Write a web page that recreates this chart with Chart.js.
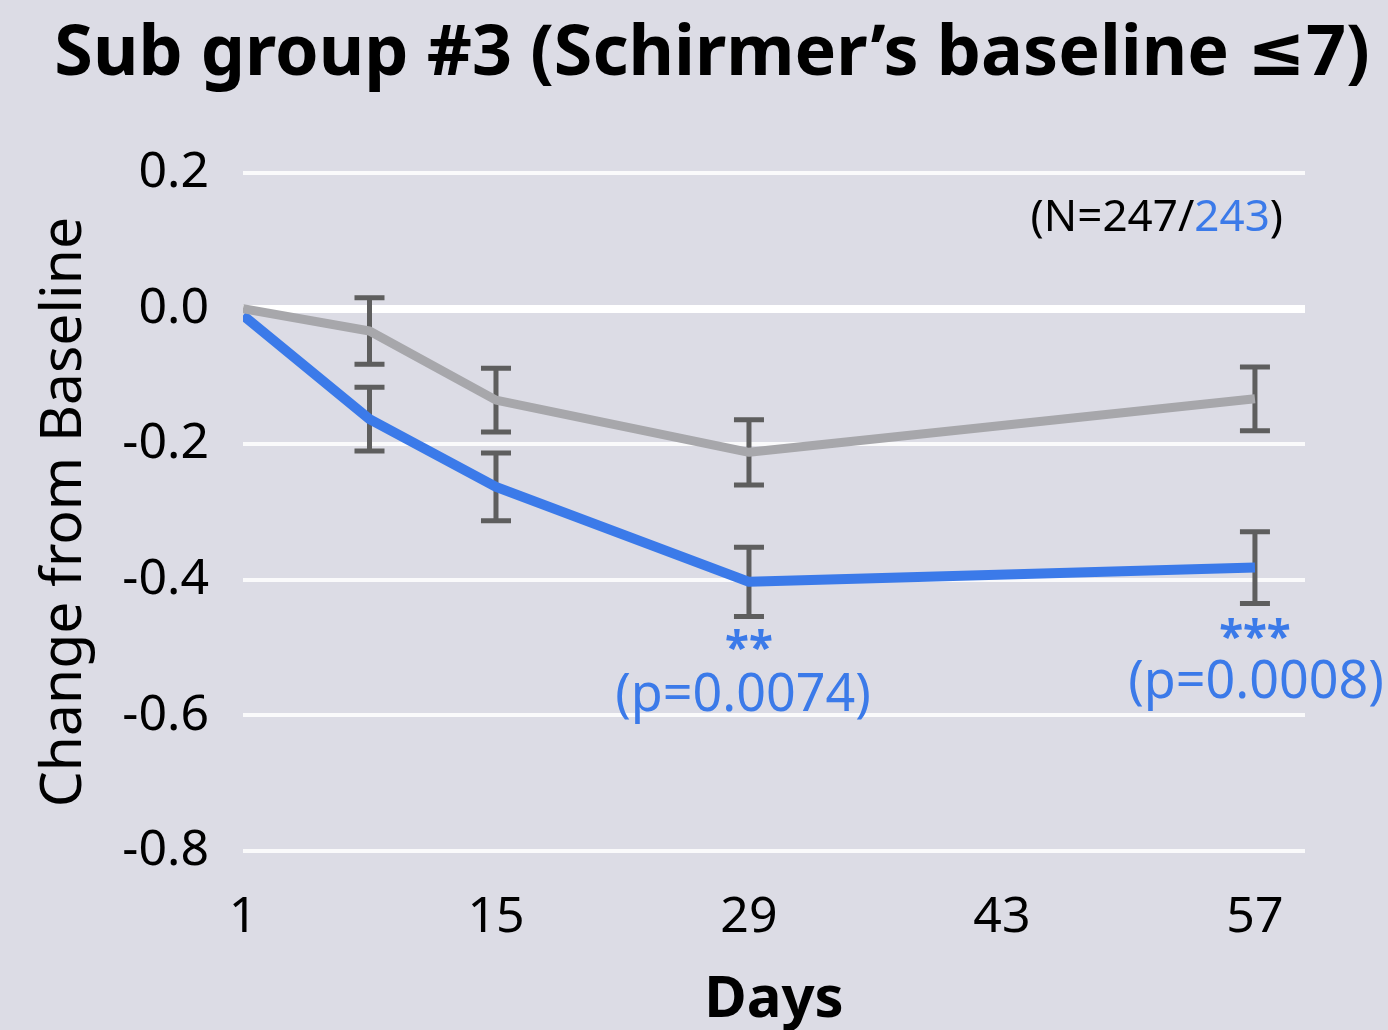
<!DOCTYPE html>
<html>
<head>
<meta charset="utf-8">
<script src="https://cdn.jsdelivr.net/npm/chart.js@4/dist/chart.umd.min.js"></script>
<style>
  body { margin: 0; background: #dcdce5; }
  #wrap { width: 1388px; height: 1030px; }
</style>
</head>
<body>
<div id="wrap"><canvas id="myChart" width="1388" height="1030"></canvas></div>
<script>
// data
var days = [1, 8, 15, 29, 57];
var xTicks = [1, 15, 29, 43, 57];
var placebo = [0, -0.033, -0.135, -0.212, -0.133];
var placeboErr = [0, 0.049, 0.047, 0.048, 0.047];
var treated = [-0.01, -0.163, -0.263, -0.403, -0.382];
var treatedErr = [0, 0.047, 0.05, 0.051, 0.053];
var yMin = -0.8, yMax = 0.2;

var BLUE = "#3b7ae9";
var GREY = "#a7a7ab";
var FONT = "'Noto Sans', 'DejaVu Sans', sans-serif";

function toPoints(ys) {
    var pts = [];
    for (var i = 0; i < days.length; i++) pts.push({ x: days[i], y: ys[i] });
    return pts;
}

// error bars + text notes
var extras = {
    id: "extras",
    beforeDatasetsDraw: function (chart) {
        var xs = chart.scales.x, ys = chart.scales.y, c = chart.ctx;
        c.save();
        c.strokeStyle = "#5e5e5e";
        c.lineWidth = 5;
        [[placebo, placeboErr], [treated, treatedErr]].forEach(function (s) {
            for (var i = 0; i < days.length; i++) {
                if (!s[1][i]) continue;
                var x = xs.getPixelForValue(days[i]);
                var y1 = ys.getPixelForValue(s[0][i] + s[1][i]);
                var y2 = ys.getPixelForValue(s[0][i] - s[1][i]);
                c.beginPath();
                c.moveTo(x, y1); c.lineTo(x, y2);
                c.moveTo(x - 15, y1); c.lineTo(x + 15, y1);
                c.moveTo(x - 15, y2); c.lineTo(x + 15, y2);
                c.stroke();
            }
        });
        c.restore();
    },
    afterDraw: function (chart) {
        var xs = chart.scales.x, ys = chart.scales.y, c = chart.ctx;
        c.save();
        c.textAlign = "center";
        c.textBaseline = "middle";
        c.fillStyle = BLUE;
        var x29 = xs.getPixelForValue(29), x57 = xs.getPixelForValue(57);
        var low29 = ys.getPixelForValue(treated[3] - treatedErr[3]);
        var low57 = ys.getPixelForValue(treated[4] - treatedErr[4]);
        c.font = "bold 44px " + FONT;
        c.fillText("**", x29, low29 + 34);
        c.fillText("***", x57, low57 + 36);
        c.font = "52px " + FONT;
        c.fillText("(p=0.0074)", x29 - 6, low29 + 80);
        c.fillText("(p=0.0008)", x57 + 1, low57 + 80);

        // (N=247/243)
        c.font = "44px " + FONT;
        c.textAlign = "left";
        var parts = [["(N=247/", "#000"], ["243", BLUE], [")", "#000"]];
        var total = 0;
        parts.forEach(function (p) { total += c.measureText(p[0]).width; });
        var x = 1283 - total, y = ys.getPixelForValue(0.2) + 45;
        parts.forEach(function (p) {
            c.fillStyle = p[1];
            c.fillText(p[0], x, y);
            x += c.measureText(p[0]).width;
        });
        c.restore();
    }
};

var ctx = document.getElementById("myChart").getContext("2d");
var chart = new Chart(ctx, {
    type: "line",
    data: {
        datasets: [{
            data: toPoints(placebo),
            borderColor: GREY,
            borderWidth: 9,
            pointRadius: 0,
            tension: 0,
            borderJoinStyle: "round"
        }, {
            data: toPoints(treated),
            borderColor: BLUE,
            borderWidth: 10,
            pointRadius: 0,
            tension: 0,
            borderJoinStyle: "round"
        }]
    },
    options: {
        responsive: false,
        animation: false,
        layout: { padding: { top: 0, right: 0, left: 36, bottom: 1 } },
        plugins: {
            legend: { display: false },
            tooltip: { enabled: false },
            title: {
                display: true,
                text: "Sub group #3 (Schirmer\u2019s baseline \u22647)",
                color: "#000",
                font: { family: FONT, size: 70, weight: "bold" },
                padding: { top: 13, bottom: 76 }
            }
        },
        scales: {
            x: {
                type: "linear",
                min: 1,
                max: 59.77,
                afterBuildTicks: function (axis) {
                    axis.ticks = xTicks.map(function (v) { return { value: v }; });
                },
                afterFit: function (axis) { axis.height = 178; },
                grid: { display: false, drawTicks: false },
                border: { display: false },
                ticks: {
                    color: "#000",
                    padding: 37,
                    font: { family: FONT, size: 50 },
                    callback: function (v) { return v; }
                },
                title: {
                    display: true,
                    text: "Days",
                    color: "#000",
                    font: { family: FONT, size: 58, weight: "bold", lineHeight: 1 },
                    padding: { top: 23, bottom: 0 }
                }
            },
            y: {
                min: yMin,
                max: yMax,
                afterFit: function (axis) { axis.width = 207; },
                grid: {
                    color: function (c) { return c.tick && Math.abs(c.tick.value) < 1e-9 ? "#ffffff" : "rgba(255,255,255,0.85)"; },
                    lineWidth: function (c) { return c.tick && Math.abs(c.tick.value) < 1e-9 ? 8 : 4; },
                    drawTicks: false
                },
                border: { display: false },
                ticks: {
                    stepSize: 0.2,
                    color: "#000",
                    padding: 34,
                    font: { family: FONT, size: 50 },
                    callback: function (v) { return (Math.abs(v) < 1e-9 ? 0 : v).toFixed(1); }
                },
                title: {
                    display: true,
                    text: "Change from Baseline",
                    color: "#000",
                    font: { family: FONT, size: 57, lineHeight: 1 },
                    padding: { top: 0, bottom: 0 }
                }
            },
            // empty right-hand spacer so the plot ends where the reference's does
            y2: {
                position: "right",
                afterFit: function (axis) { axis.width = 83; },
                grid: { display: false, drawTicks: false },
                border: { display: false },
                ticks: { display: false }
            }
        }
    },
    plugins: [extras]
});
</script>
</body>
</html>
